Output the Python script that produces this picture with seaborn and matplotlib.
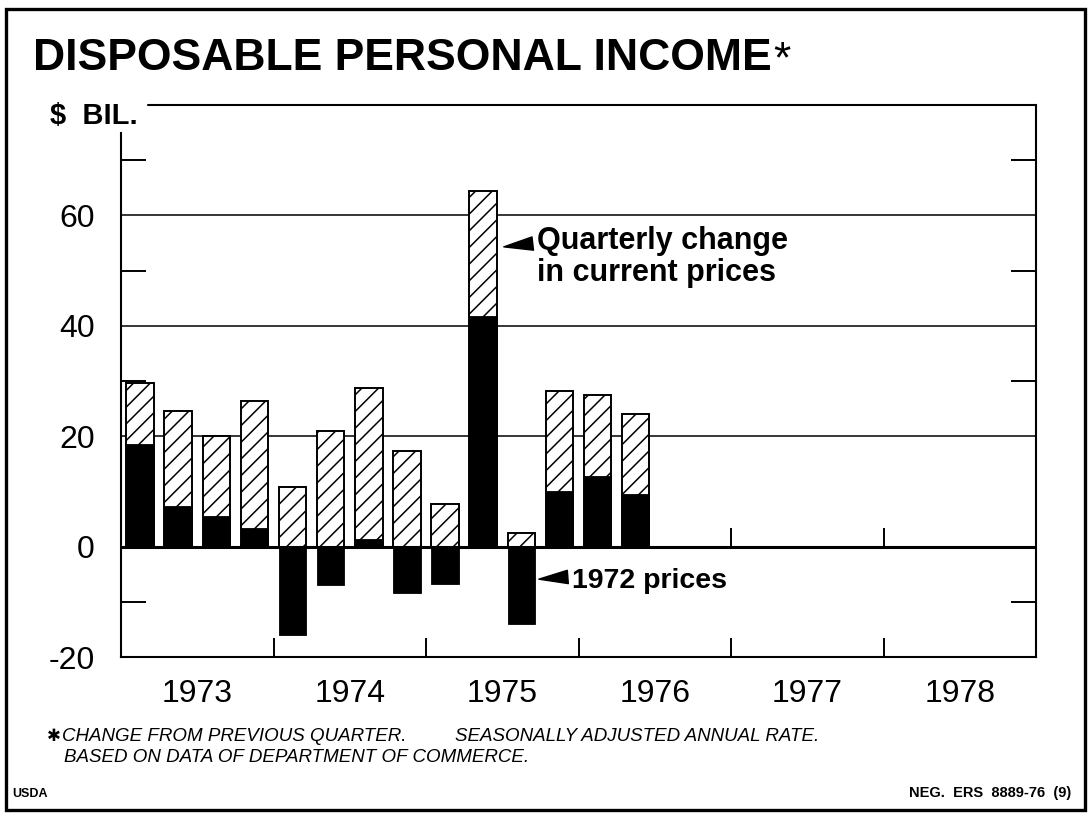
import matplotlib
matplotlib.use("Agg")
import matplotlib.pyplot as plt
from matplotlib.patches import Rectangle
import numpy as np
import pandas as pd
import seaborn as sns

# Quarterly change in disposable personal income, $ billion (SAAR)
years = [1973, 1973, 1973, 1973, 1974, 1974, 1974, 1974,
         1975, 1975, 1975, 1975, 1976, 1976]
quarters = [1, 2, 3, 4, 1, 2, 3, 4, 1, 2, 3, 4, 1, 2]
current_prices = [29.6, 24.6, 20.0, 26.3, 10.8, 21.0, 28.7, 17.3,
                  7.8, 64.5, 2.5, 28.1, 27.4, 24.0]
prices_1972 = [18.5, 7.4, 5.6, 3.3, -16.0, -7.0, 1.4, -8.4,
               -6.8, 41.7, -14.0, 10.0, 12.7, 9.5]

year_labels = ["1973", "1974", "1975", "1976", "1977", "1978"]
y_major = [-20, 0, 20, 40, 60]
y_minor = [-10, 30, 50, 70]
grid_levels = [20, 40, 60]

sns.set_theme(style="white")
plt.rcParams["font.family"] = ["Liberation Sans", "DejaVu Sans"]
plt.rcParams["hatch.linewidth"] = 1.1
plt.rcParams["hatch.color"] = "black"

W, H = 1088, 813
fig = plt.figure(figsize=(W / 100, H / 100), dpi=100)
fig.patch.set_facecolor("white")

def fx(px):
    return px / W

def fy(py):
    return 1 - py / H

ax = fig.add_axes([fx(121), fy(657), fx(1036) - fx(121), fy(105) - fy(657)])
ax.set_facecolor("white")

df = pd.DataFrame({
    "t": [y + (q - 0.5) / 4 for y, q in zip(years, quarters)],
    "current": current_prices,
    "real": prices_1972,
})

first_year = int(year_labels[0])
last_year = int(year_labels[-1]) + 1

# reference lines behind the bars
ax.hlines(grid_levels, first_year, last_year, color="black", lw=1.1, zorder=1)

# hatched bars: change in current prices
sns.barplot(data=df, x="t", y="current", native_scale=True, width=0.72,
            color="white", edgecolor="black", linewidth=1.4, hatch="//",
            errorbar=None, saturation=1, ax=ax, zorder=3)
# solid bars: change in 1972 prices
sns.barplot(data=df, x="t", y="real", native_scale=True, width=0.72,
            color="black", edgecolor="black", linewidth=0.6,
            errorbar=None, saturation=1, ax=ax, zorder=4)

ax.axhline(0, color="black", lw=2.2, zorder=5)

ax.set_xlim(first_year, last_year)
ax.set_ylim(-20, 80)
ax.set_xlabel("")
ax.set_ylabel("")

# frame
for side in ["left", "right", "bottom"]:
    ax.spines[side].set_visible(True)
    ax.spines[side].set_color("black")
    ax.spines[side].set_linewidth(1.5)
ax.spines["top"].set_visible(False)
ax.spines["left"].set_bounds(-20, 75)
ax.plot([fx(148 - 121) / fx(915), 1], [1, 1], transform=ax.transAxes,
        color="black", lw=1.5, clip_on=False, zorder=6)

# y axis
ax.set_yticks(y_major)
ax.set_yticklabels([str(v) for v in y_major])
ax.set_yticks(y_minor, minor=True)
ax.tick_params(axis="y", which="major", length=0, pad=19, labelsize=23,
               labelcolor="black")
ax.tick_params(axis="y", which="minor", direction="in", length=18, width=1.4,
               left=True, right=True, color="black")

# x axis: year boundaries as ticks, year names centred between them
boundaries = list(range(first_year + 1, last_year))
ax.set_xticks(boundaries)
ax.set_xticklabels([""] * len(boundaries))
ax.set_xticks([first_year + i + 0.5 for i in range(len(year_labels))], minor=True)
ax.set_xticklabels(year_labels, minor=True)
ax.tick_params(axis="x", which="major", direction="in", length=14, width=1.4,
               bottom=True, color="black")
ax.tick_params(axis="x", which="minor", length=0, pad=16, labelsize=23,
               labelcolor="black")
# year marks on the zero line beyond the plotted quarters
ax.vlines([b for b in boundaries if b > max(df["t"]) + 0.5], 0, 3.4,
          color="black", lw=1.4, zorder=5)

# series labels with pointer wedges
ax.text(1975.728, 53.9, "Quarterly change", fontsize=22, weight="bold",
        va="baseline", ha="left", color="black")
ax.text(1975.728, 48.2, "in current prices", fontsize=22, weight="bold",
        va="baseline", ha="left", color="black")
ax.annotate("", xy=(1975.51, 54.3), xytext=(1975.70, 54.9),
            arrowprops=dict(arrowstyle="wedge,tail_width=0.8,shrink_factor=0.5",
                            color="black", shrinkA=0, shrinkB=0))
ax.text(1975.957, -7.5, "1972 prices", fontsize=20.5, weight="bold",
        va="baseline", ha="left", color="black")
ax.annotate("", xy=(1975.74, -5.9), xytext=(1975.93, -5.5),
            arrowprops=dict(arrowstyle="wedge,tail_width=0.8,shrink_factor=0.5",
                            color="black", shrinkA=0, shrinkB=0))

# title and unit
fig.text(fx(33), fy(70), "DISPOSABLE PERSONAL INCOME", fontsize=32,
         weight="bold", va="baseline", ha="left", color="black")
fig.text(fx(773), fy(72), "*", fontsize=32, va="baseline", ha="left",
         color="black")
fig.text(fx(50), fy(124), "$  BIL.", fontsize=21, weight="bold",
         va="baseline", ha="left", color="black")

# footnotes
fig.text(fx(47), fy(741), "\u2731", fontsize=12, va="baseline", ha="left",
         color="black", family=["DejaVu Sans"])
fig.text(fx(62), fy(741), "CHANGE FROM PREVIOUS QUARTER.", fontsize=13.5,
         style="italic", va="baseline", ha="left", color="black")
fig.text(fx(455), fy(741), "SEASONALLY ADJUSTED ANNUAL RATE.", fontsize=13.5,
         style="italic", va="baseline", ha="left", color="black")
fig.text(fx(64), fy(762), "BASED ON DATA OF DEPARTMENT OF COMMERCE.",
         fontsize=13.5, style="italic", va="baseline", ha="left", color="black")
fig.text(fx(12), fy(797), "USDA", fontsize=9, weight="bold",
         va="baseline", ha="left", color="black")
fig.text(fx(1071), fy(797), "NEG.  ERS  8889-76  (9)", fontsize=10.5,
         weight="bold", va="baseline", ha="right", color="black")

# outer frame
fig.add_artist(Rectangle((fx(6), fy(810)), fx(1085) - fx(6), fy(9) - fy(810),
                         transform=fig.transFigure, fill=False,
                         edgecolor="black", lw=2.4))

fig.savefig("out.png", dpi=100, facecolor="white")
